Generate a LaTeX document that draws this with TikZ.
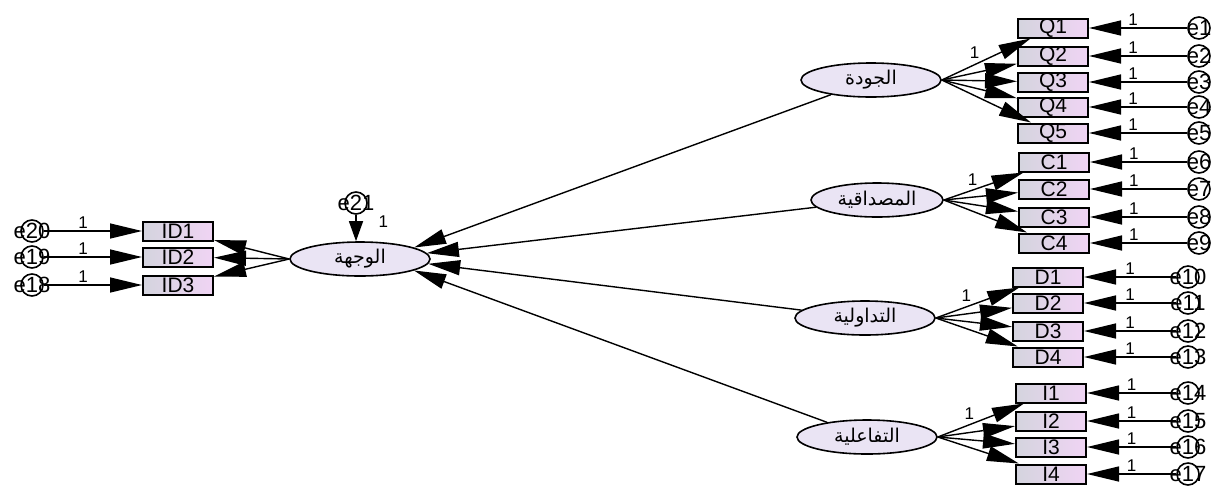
\documentclass[tikz,border=0pt]{standalone}
\usepackage{fontspec}
\setmainfont{Liberation Sans}
\newfontfamily\arabicfont[Script=Arabic]{DejaVu Sans}
\TeXXeTstate=1
\usepackage{xcolor}
\usepackage{tikz}
\usetikzlibrary{arrows.meta, shapes.geometric}
\definecolor{boxL}{RGB}{212,212,222}
\definecolor{boxR}{RGB}{240,212,244}
\definecolor{latfill}{RGB}{234,228,244}
\newcommand{\artext}[1]{{\arabicfont\beginR #1\endR}}
\tikzset{every node/.append style={font=\fontsize{9}{10}\selectfont}}
\tikzset{
  obs/.style={draw, line width=1pt, left color=boxL, right color=boxR, minimum width=35pt, minimum height=9.5pt, inner sep=0pt, font=\fontsize{10.5}{11}\selectfont},
  lat/.style={ellipse, draw, line width=0.8pt, fill=latfill, minimum width=70pt, minimum height=17pt, inner sep=0pt, font=\fontsize{9.5}{10}\selectfont},
  err/.style={circle, draw, line width=0.8pt, minimum size=11pt, inner sep=0pt},
  errtxt/.style={font=\fontsize{11}{12}\selectfont},
  reg/.style={line width=0.7pt, -{Triangle[length=16pt, width=7.5pt]}},
  one/.style={font=\fontsize{8.5}{9}\selectfont, inner sep=1pt},
}

\begin{document}
\begin{tikzpicture}[x=0.5pt, y=-0.5pt]
    \useasboundingbox (0,0) rectangle (1224,488);
    % latent variables
    \node[lat] (wajha) at (360,259) {\artext{الوجهة}};
    \node[lat] (jawda) at (871,80) {\artext{الجودة}};
    \node[lat, minimum width=66pt] (misd) at (877,200) {\artext{المصداقية}};
    \node[lat] (tadw) at (865,318) {\artext{التداولية}};
    \node[lat] (tafa) at (867,437) {\artext{التفاعلية}};

    % disturbance of the outcome
    \node[err, label={[errtxt]center:e21}] (e21) at (356,203) {};
    \draw[line width=0.7pt, -{Triangle[length=10pt, width=7pt]}] (e21) -- node[one, pos=0.25, right, xshift=10pt] {1} (e21 |- wajha.north);

    % left block
    \foreach \i/\y/\n in {1/231/20, 2/257/19, 3/285/18} {
        \node[obs] (id\i) at (178,\y) {ID\i};
        \node[err, label={[errtxt]center:e\n}] (e\n) at (32,\y) {};
        \draw[reg] (e\n) -- node[one, pos=0.4, above] {1} (id\i);
        \draw[reg] (wajha.west) -- (id\i);
    }

    % right blocks
    \foreach \i/\y/\n in {1/28/1, 2/56/2, 3/82/3, 4/107/4, 5/133/5} {
        \node[obs] (q\i) at (1053,\y) {Q\i};
        \node[err, label={[errtxt]center:e\n}] (e\n) at (1199,\y) {};
        \draw[reg] (e\n) -- node[one, pos=0.55, above] {1} (q\i);
        \draw[reg] (jawda.east) -- (q\i);
    }
    \foreach \i/\y/\n in {1/162/6, 2/189/7, 3/217/8, 4/243/9} {
        \node[obs] (c\i) at (1054,\y) {C\i};
        \node[err, label={[errtxt]center:e\n}] (e\n) at (1199,\y) {};
        \draw[reg] (e\n) -- node[one, pos=0.55, above] {1} (c\i);
        \draw[reg] (misd.east) -- (c\i);
    }
    \foreach \i/\y/\n in {1/277/10, 2/303/11, 3/331/12, 4/357/13} {
        \node[obs] (d\i) at (1048,\y) {D\i};
        \node[err, label={[errtxt]center:e\n}] (e\n) at (1188,\y) {};
        \draw[reg] (e\n) -- node[one, pos=0.5, above] {1} (d\i);
        \draw[reg] (tadw.east) -- (d\i);
    }
    \foreach \i/\y/\n in {1/393/14, 2/421/15, 3/447/16, 4/474/17} {
        \node[obs] (t\i) at (1051,\y) {I\i};
        \node[err, label={[errtxt]center:e\n}] (e\n) at (1188,\y) {};
        \draw[reg] (e\n) -- node[one, pos=0.5, above] {1} (t\i);
        \draw[reg] (tafa.east) -- (t\i);
    }
    \path (jawda.east) -- node[one, pos=0.45, above left] {1} (q1);
    \path (misd.east) -- node[one, pos=0.45, above left] {1} (c1);
    \path (tadw.east) -- node[one, pos=0.45, above left] {1} (d1);
    \path (tafa.east) -- node[one, pos=0.45, above left] {1} (t1);

    % structural paths
    \draw[reg] (jawda) -- (wajha.12);
    \draw[reg] (misd) -- (wajha.5);
    \draw[reg] (tadw) -- (wajha.-4);
    \draw[reg] (tafa) -- (wajha.-12);
\end{tikzpicture}
\end{document}
